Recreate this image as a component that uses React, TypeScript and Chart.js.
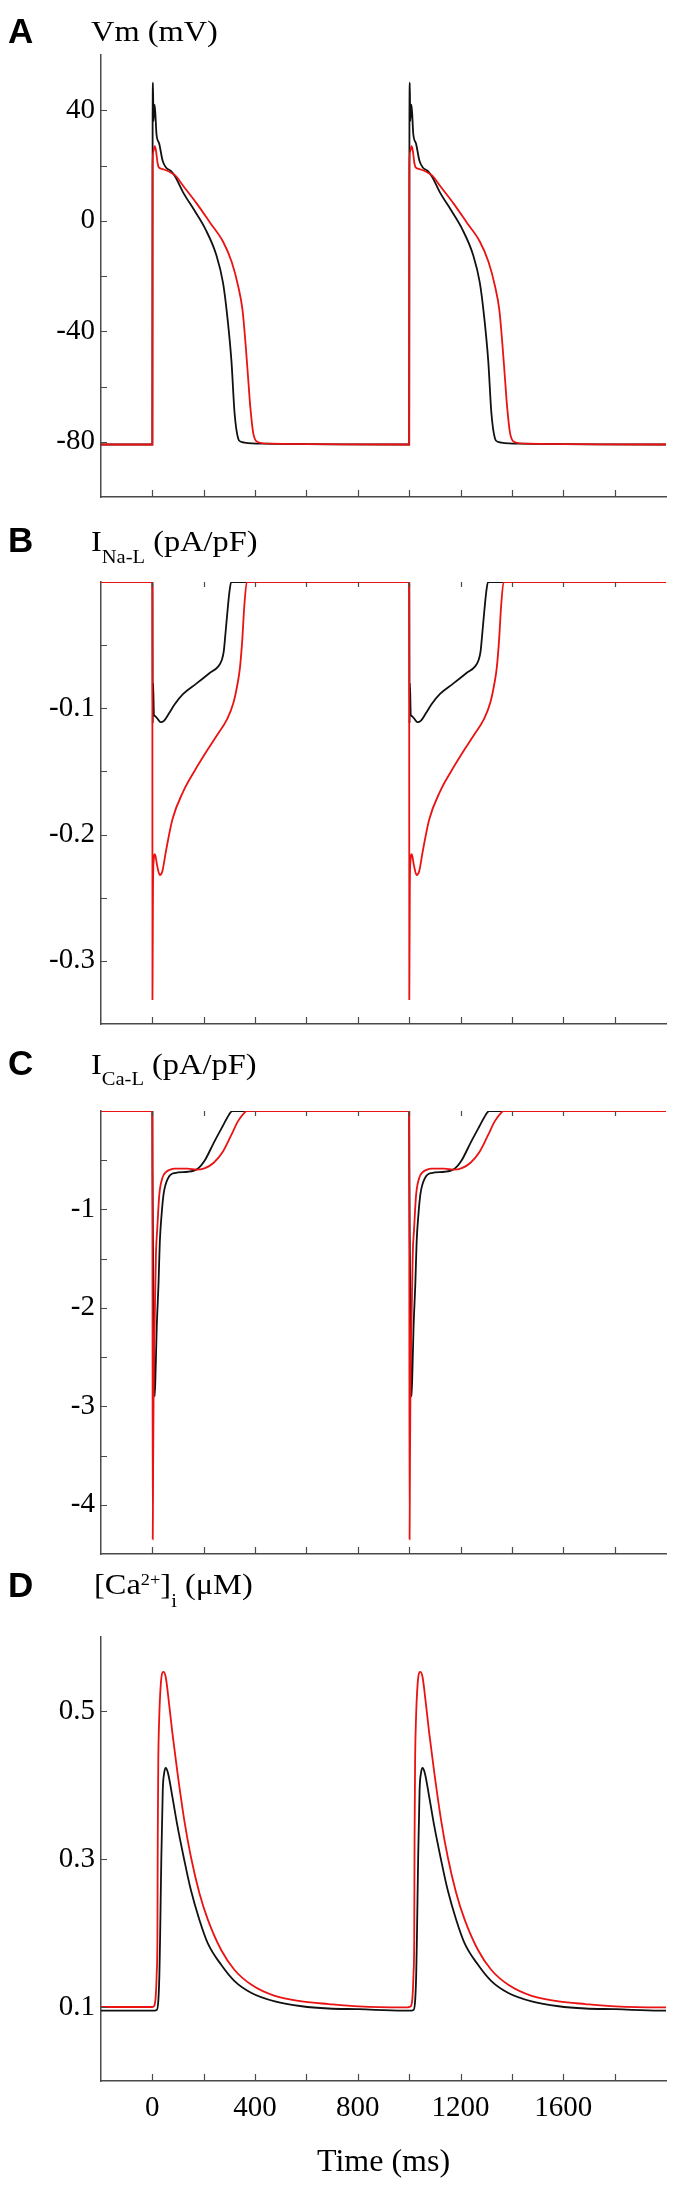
import React, { useEffect, useRef } from "react";
import { Chart, registerables } from "chart.js";

Chart.register(...registerables);

// ---------- shared axis data ----------
const T_MIN = -200;
const T_MAX = 2000;
const BEAT_STARTS = [0, 1000];
const X_TICKS = [0, 200, 400, 600, 800, 1000, 1200, 1400, 1600, 1800];
const X_LABELS = [0, 400, 800, 1200, 1600];

// ---------- Panel A: Vm (mV) ----------
const VM_PRE_BLACK = -81;
const VM_PRE_RED = -81;
const VM_T_BLACK = [0, 1, 2.5, 4, 9, 16, 27, 40, 53, 71, 88, 122, 164, 207, 249, 275, 292, 308, 320, 334, 345, 359, 427, 990];
const VM_BLACK = [-81, 36, 50, 36, 42, 31.4, 27.8, 21.7, 19.3, 18.1, 16.1, 9.9, 3.7, -3.1, -12.4, -22.4, -34.8, -50.9, -69.5, -78.8, -80, -80.3, -80.7, -81];
const VM_T_RED = [0, 0.6, 4, 9, 14, 20, 26, 40, 58, 71, 90, 122, 173, 224, 275, 309, 334, 351, 363, 373, 381, 393, 410, 461, 990];
const VM_RED = [-81, 20, 25, 27, 25.5, 21, 19.2, 18.7, 18.1, 17.5, 16.3, 12.4, 6.2, -0.6, -7.5, -14.9, -23.6, -32.3, -44.7, -57.1, -67, -77, -80.1, -80.7, -81];
const Y_TICKS_A = [40, 20, 0, -20, -40, -60, -80];
const Y_LABELS_A = [40, 0, -40, -80];

// ---------- Panel B: I Na-L (pA/pF) ----------
const INAL_T_BLACK = [0, 0.5, 1.5, 3, 6, 9, 19, 32, 45, 65, 87, 120, 171, 222, 256, 270, 278, 285, 293, 300, 307, 990];
const INAL_BLACK = [0, -0.011, -0.112, -0.08, -0.105, -0.106, -0.108, -0.111, -0.11, -0.104, -0.0968, -0.0886, -0.0805, -0.0723, -0.067, -0.062, -0.055, -0.04, -0.022, -0.008, 0, 0];
const INAL_T_RED = [0, 0.4, 1.2, 2.5, 5, 10, 19, 29, 39, 53, 78, 120, 163, 205, 256, 290, 316, 333, 341, 350, 358, 368, 990];
const INAL_RED = [0, -0.331, -0.3, -0.243, -0.221, -0.2155, -0.225, -0.232, -0.229, -0.213, -0.188, -0.166, -0.15, -0.136, -0.12, -0.109, -0.0955, -0.079, -0.068, -0.046, -0.019, 0, 0];
const Y_TICKS_B = [-0.05, -0.1, -0.15, -0.2, -0.25, -0.3];
const Y_LABELS_B = [-0.1, -0.2, -0.3];

// ---------- Panel C: I Ca-L (pA/pF) ----------
const ICAL_T_BLACK = [0, 0.5, 3, 6, 9, 12, 17, 24, 29, 36, 44, 61, 87, 138, 177, 205, 239, 273, 299, 311, 990];
const ICAL_BLACK = [0, -0.55, -1.5, -2.6, -2.9, -2.7, -2.2, -1.75, -1.33, -1.05, -0.84, -0.684, -0.63, -0.617, -0.586, -0.498, -0.323, -0.158, -0.035, 0, 0];
const ICAL_T_RED = [0, 0.5, 1.5, 3, 5, 7, 9, 14, 19, 27, 39, 53, 70, 87, 137, 171, 205, 239, 273, 307, 333, 358, 368, 990];
const ICAL_RED = [0, -1.5, -4.35, -3.6, -2.8, -2.4, -2.15, -1.45, -1.2, -0.85, -0.68, -0.62, -0.595, -0.586, -0.586, -0.596, -0.58, -0.526, -0.42, -0.246, -0.105, -0.018, 0, 0];
const Y_TICKS_C = [-0.5, -1, -1.5, -2, -2.5, -3, -3.5, -4];
const Y_LABELS_C = [-1, -2, -3, -4];

// ---------- Panel D: [Ca2+]i (uM) ----------
const CAI_PRE_BLACK = 0.095;
const CAI_PRE_RED = 0.1;
const CAI_T_BLACK = [0, 17, 23.5, 27.5, 30, 35, 40.5, 46, 52, 61, 78, 98, 124, 150, 183, 216, 268, 320, 386, 477, 582, 686, 804, 974, 995];
const CAI_BLACK = [0.095, 0.096, 0.11, 0.146, 0.191, 0.303, 0.393, 0.416, 0.423, 0.416, 0.384, 0.344, 0.299, 0.258, 0.218, 0.186, 0.157, 0.135, 0.119, 0.1076, 0.101, 0.098, 0.097, 0.095, 0.095];
const CAI_T_RED = [0, 6.5, 13, 17, 19.6, 21, 23, 26, 33, 43, 52, 65, 78, 98, 124, 150, 183, 216, 268, 320, 386, 477, 582, 686, 804, 974, 995];
const CAI_RED = [0.1, 0.101, 0.114, 0.146, 0.191, 0.33, 0.43, 0.483, 0.537, 0.553, 0.546, 0.51, 0.47, 0.416, 0.353, 0.303, 0.254, 0.218, 0.177, 0.15, 0.13, 0.115, 0.1076, 0.104, 0.1008, 0.0995, 0.0995];
const Y_TICKS_D = [0.1, 0.3, 0.5];
const Y_LABELS_D = [0.1, 0.3, 0.5];

// ---------- styling ----------
const RED = "rgb(235,18,18)";
const BLACK = "#111111";
const AXIS = "#4a4a4a";
const SERIF = "'Liberation Serif', 'Times New Roman', Times, serif";
const SANS = "'Liberation Sans', Arial, Helvetica, sans-serif";

function buildSeries(pre: number, ts: number[], vs: number[]) {
  const pts: { x: number; y: number }[] = [{ x: T_MIN, y: pre }];
  for (const s of BEAT_STARTS) {
    for (let i = 0; i < ts.length; i++) pts.push({ x: s + ts[i], y: vs[i] });
  }
  pts.push({ x: T_MAX, y: vs[vs.length - 1] });
  return pts;
}

function labelFrom(list: number[]) {
  return (v: any) => {
    const n = Number(v);
    for (const l of list) if (Math.abs(n - l) < 1e-7) return String(l);
    return "";
  };
}

const inwardTicks = {
  id: "inwardTicks",
  afterDatasetsDraw(chart: any, _args: any, opts: any) {
    const { ctx, chartArea: a, scales } = chart;
    const x = scales.x;
    const y = scales.y;
    ctx.save();
    ctx.strokeStyle = AXIS;
    ctx.lineWidth = 1.2;
    ctx.beginPath();
    for (const v of opts.yTicks || []) {
      const py = Math.round(y.getPixelForValue(v)) + 0.5;
      ctx.moveTo(a.left, py);
      ctx.lineTo(a.left + 6, py);
    }
    for (const v of opts.xTicks || []) {
      const px = Math.round(x.getPixelForValue(v)) + 0.5;
      ctx.moveTo(px, a.bottom);
      ctx.lineTo(px, a.bottom - 7);
      if (opts.top) {
        ctx.moveTo(px, a.top);
        ctx.lineTo(px, a.top + 5);
      }
    }
    ctx.stroke();
    ctx.restore();
  },
};

type PanelSpec = {
  red: { x: number; y: number }[];
  black: { x: number; y: number }[];
  yMin: number;
  yMax: number;
  yStep: number;
  yTicks: number[];
  yLabels: number[];
  topTicks: boolean;
  showX: boolean;
  xHeight: number;
  padBottom: number;
};

function makeConfig(p: PanelSpec): any {
  const line = (data: any, color: string) => ({
    data,
    borderColor: color,
    backgroundColor: color,
    borderWidth: 1.8,
    pointRadius: 0,
    fill: false,
    cubicInterpolationMode: "monotone",
  });
  return {
    type: "line",
    data: { datasets: [line(p.red, RED), line(p.black, BLACK)] },
    options: {
      animation: false,
      responsive: false,
      maintainAspectRatio: false,
      events: [],
      layout: { padding: { left: 0, right: 14, top: 40, bottom: p.padBottom } },
      plugins: {
        legend: { display: false },
        tooltip: { enabled: false },
        inwardTicks: { yTicks: p.yTicks, xTicks: X_TICKS, top: p.topTicks },
      },
      scales: {
        x: {
          type: "linear",
          min: T_MIN,
          max: T_MAX,
          grid: { display: false, drawTicks: false },
          border: { display: true, color: AXIS, width: 1.5 },
          ticks: {
            display: p.showX,
            stepSize: 200,
            autoSkip: false,
            maxRotation: 0,
            padding: 10,
            color: "#000",
            font: { family: SERIF, size: 29 },
            callback: labelFrom(X_LABELS),
          },
          title: {
            display: p.showX,
            text: "Time (ms)",
            color: "#000",
            font: { family: SERIF, size: 32 },
            padding: { top: 0, bottom: 12.8 },
          },
          afterFit: (s: any) => {
            s.height = p.xHeight;
          },
        },
        y: {
          type: "linear",
          min: p.yMin,
          max: p.yMax,
          grid: { display: false, drawTicks: false },
          border: { display: true, color: AXIS, width: 1.5 },
          ticks: {
            stepSize: p.yStep,
            autoSkip: false,
            padding: 6,
            color: "#000",
            font: { family: SERIF, size: 29 },
            callback: labelFrom(p.yLabels),
          },
          afterFit: (s: any) => {
            s.width = 101;
          },
        },
      },
    },
    plugins: [inwardTicks],
  };
}

function ChartCanvas({ top, height, spec }: { top: number; height: number; spec: PanelSpec }) {
  const ref = useRef<HTMLCanvasElement | null>(null);
  useEffect(() => {
    if (!ref.current) return;
    const chart = new Chart(ref.current, makeConfig(spec));
    return () => chart.destroy();
  }, []);
  return (
    <canvas
      ref={ref}
      width={680}
      height={height}
      style={{ position: "absolute", left: 0, top, width: 680, height, display: "block" }}
    />
  );
}

const letterStyle = (top: number): React.CSSProperties => ({
  position: "absolute",
  left: 8,
  top,
  fontFamily: SANS,
  fontWeight: "bold",
  fontSize: 35,
  lineHeight: "35px",
  color: "#000",
  zIndex: 2,
});

const titleStyle = (top: number, left: number): React.CSSProperties => ({
  position: "absolute",
  left,
  top,
  fontFamily: SERIF,
  fontSize: 30,
  lineHeight: "30px",
  color: "#000",
  whiteSpace: "nowrap",
  transform: "scaleX(1.08)",
  transformOrigin: "left top",
  zIndex: 2,
});

const shift = (size: number, dy: number): React.CSSProperties => ({
  fontSize: size,
  position: "relative",
  top: dy,
  lineHeight: 0,
});

export default function App() {
  const panelA: PanelSpec = {
    red: buildSeries(VM_PRE_RED, VM_T_RED, VM_RED),
    black: buildSeries(VM_PRE_BLACK, VM_T_BLACK, VM_BLACK),
    yMin: -100, yMax: 60, yStep: 20,
    yTicks: Y_TICKS_A, yLabels: Y_LABELS_A,
    topTicks: false, showX: false, xHeight: 0, padBottom: 25,
  };
  const panelB: PanelSpec = {
    red: buildSeries(0, INAL_T_RED, INAL_RED),
    black: buildSeries(0, INAL_T_BLACK, INAL_BLACK),
    yMin: -0.35, yMax: 0, yStep: 0.05,
    yTicks: Y_TICKS_B, yLabels: Y_LABELS_B,
    topTicks: true, showX: false, xHeight: 0, padBottom: 25,
  };
  const panelC: PanelSpec = {
    red: buildSeries(0, ICAL_T_RED, ICAL_RED),
    black: buildSeries(0, ICAL_T_BLACK, ICAL_BLACK),
    yMin: -4.5, yMax: 0, yStep: 0.5,
    yTicks: Y_TICKS_C, yLabels: Y_LABELS_C,
    topTicks: true, showX: false, xHeight: 0, padBottom: 25,
  };
  const panelD: PanelSpec = {
    red: buildSeries(CAI_PRE_RED, CAI_T_RED, CAI_RED),
    black: buildSeries(CAI_PRE_BLACK, CAI_T_BLACK, CAI_BLACK),
    yMin: 0, yMax: 0.6, yStep: 0.1,
    yTicks: Y_TICKS_D, yLabels: Y_LABELS_D,
    topTicks: false, showX: true, xHeight: 114, padBottom: 0,
  };

  return (
    <div style={{ position: "absolute", left: 0, top: 0, width: 680, height: 2195, background: "#fff", overflow: "hidden" }}>
      <ChartCanvas top={15} height={507} spec={panelA} />
      <ChartCanvas top={542} height={507} spec={panelB} />
      <ChartCanvas top={1071} height={508} spec={panelC} />
      <ChartCanvas top={1597} height={598} spec={panelD} />

      <div style={letterStyle(13)}>A</div>
      <div style={titleStyle(16, 91)}>Vm (mV)</div>

      <div style={letterStyle(522)}>B</div>
      <div style={titleStyle(526, 91)}>
        I<span style={shift(19, 12)}>Na-L</span> (pA/pF)
      </div>

      <div style={letterStyle(1045)}>C</div>
      <div style={titleStyle(1049, 91)}>
        I<span style={shift(19, 11)}>Ca-L</span> (pA/pF)
      </div>

      <div style={letterStyle(1567)}>D</div>
      <div style={titleStyle(1569, 94)}>
        [Ca<span style={shift(17, -9)}>2+</span>]<span style={shift(19, 13)}>i</span> (μM)
      </div>
    </div>
  );
}
